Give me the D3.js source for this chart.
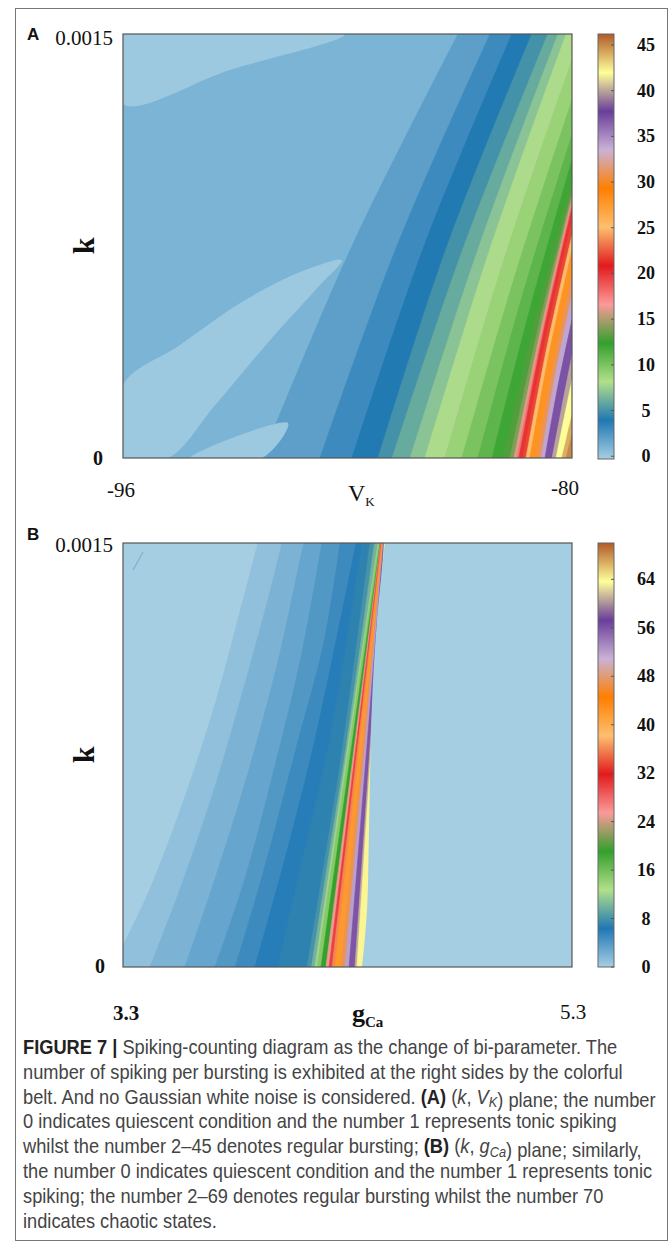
<!DOCTYPE html>
<html><head><meta charset="utf-8">
<script src="https://cdn.jsdelivr.net/npm/d3@7"></script>
<style>body{margin:0;background:#fff}</style>
</head><body><svg id="c" width="670" height="1246"></svg>
<script>
// ---------- DATA ----------
const pairedColors = ["#a6cee3","#1f78b4","#b2df8a","#33a02c","#fb9a99","#e31a1c","#fdbf6f","#ff7f00","#cab2d6","#6a3d9a","#ffff99","#b15928"];

// Panel A : (V_K, k)
const vkDomain = [-96, -80];
const kDomain = [0, 0.0015];
const countRangeA = [-0.3, 46.2];
const colorTicksA = [0,5,10,15,20,25,30,35,40,45];
const backgroundLevelA = 1;
// quiescent islands (level 0) as closed polygons [V_K, k]
const zeroIslandsA = [
  [[-96,0.0015],[-96,0.001252],[-92.19,0.001373],[-88.09,0.0015]],
  [[-96,0.000258],[-93.97,0.0004],[-91.65,0.000559],[-89.69,0.000658],[-88.2,0.0007],[-88.98,0.000612],[-90.76,0.000417],[-92.72,0.000187],[-94.40,0],[-96,0]],
  [[-93.61,0],[-90.12,0.000124],[-91.05,0]]
];
// contour boundaries: level right of the curve, points from bottom to top / right edge
const contoursA = [
  [2,  [[-91.05,0],[-87.84,0.00075],[-84.06,0.0015]]],
  [3,  [[-88.98,0],[-86.24,0.00075],[-82.92,0.0015]]],
  [4,  [[-87.84,0],[-85.27,0.00075],[-82.14,0.0015]]],
  [5,  [[-86.91,0],[-84.45,0.00075],[-81.43,0.0015]]],
  [6,  [[-86.41,0],[-83.85,0.00075],[-80.86,0.0015]]],
  [7,  [[-85.77,0],[-83.31,0.00075],[-80.50,0.0015]]],
  [8,  [[-85.24,0],[-82.89,0.00075],[-80.21,0.0015]]],
  [9,  [[-84.53,0],[-82.42,0.000704],[-80,0.001408]]],
  [10, [[-83.92,0],[-82.07,0.000633],[-80,0.001266]]],
  [11, [[-83.35,0],[-81.78,0.000571],[-80,0.001143]]],
  [12, [[-82.85,0],[-81.50,0.000527],[-80,0.001054]]],
  [13, [[-82.46,0],[-81.30,0.000492],[-80,0.000983]]],
  [14, [[-82.21,0],[-81.18,0.000471],[-80,0.000941]]],
  [16, [[-82.07,0],[-81.10,0.000460],[-80,0.000920]]],
  [18, [[-81.96,0],[-81.05,0.000449],[-80,0.000899]]],
  [20, [[-81.89,0],[-81.02,0.000442],[-80,0.000884]]],
  [22, [[-81.75,0],[-80.94,0.000421],[-80,0.000842]]],
  [25, [[-81.64,0],[-80.89,0.000394],[-80,0.000789]]],
  [28, [[-81.50,0],[-80.82,0.000368],[-80,0.000736]]],
  [31, [[-81.25,0],[-80.68,0.000324],[-80,0.000647]]],
  [34, [[-81.10,0],[-80.61,0.000288],[-80,0.000577]]],
  [37, [[-80.96,0],[-80.52,0.000244],[-80,0.000488]]],
  [40, [[-80.71,0],[-80.36,0.000182],[-80,0.000364]]],
  [42, [[-80.57,0],[-80.29,0.000138],[-80,0.000276]]],
  [44, [[-80.36,0],[-80.18,0.000076],[-80,0.000152]]],
  [45, [[-80.21,0],[-80.11,0.000041],[-80,0.000081]]]
];

// Panel B : (g_Ca, k)
const gcaDomain = [3.3, 5.3];
const countRangeB = [0, 70];
const colorTicksB = [0,8,16,24,32,40,48,56,64];
const backgroundLevelB = 0;
const contoursB = [
  [1,  [[3.30,0.0000763],[3.420,0.000276],[3.576,0.000603],[3.710,0.000930],[3.821,0.001257],[3.901,0.0015]]],
  [2,  [[3.420,0],[3.554,0.000276],[3.710,0.000639],[3.843,0.001002],[3.955,0.001329],[4.008,0.0015]]],
  [3,  [[3.576,0],[3.710,0.000312],[3.866,0.000712],[3.999,0.001111],[4.088,0.001438],[4.106,0.0015]]],
  [4,  [[3.710,0],[3.843,0.000312],[3.977,0.000712],[4.097,0.001111],[4.186,0.0015]]],
  [5,  [[3.800,0],[3.930,0.000349],[4.075,0.000785],[4.195,0.001148],[4.267,0.0015]]],
  [6,  [[3.888,0],[4.022,0.000385],[4.160,0.000821],[4.338,0.0015]]],
  [7,  [[3.990,0],[4.100,0.000385],[4.220,0.000800],[4.365,0.0015]]],
  [8,  [[4.120,0],[4.200,0.000385],[4.280,0.000785],[4.400,0.0015]]],
  [10, [[4.140,0],[4.215,0.000385],[4.295,0.000785],[4.420,0.0015]]],
  [12, [[4.155,0],[4.436,0.0015]]],
  [15, [[4.165,0],[4.440,0.0015]]],
  [19, [[4.182,0],[4.445,0.0015]]],
  [25, [[4.204,0],[4.447,0.0015]]],
  [30, [[4.218,0],[4.449,0.0015]]],
  [36, [[4.231,0],[4.451,0.0015]]],
  [42, [[4.244,0],[4.454,0.0015]]],
  [47, [[4.271,0],[4.456,0.0015]]],
  [52, [[4.289,0],[4.458,0.0015]]],
  [56, [[4.307,0],[4.460,0.0015]]],
  [61, [[4.333,0],[4.463,0.0015]]],
  [64, [[4.342,0],[4.465,0.0015]]]
];
// right quiescent region boundary (level 0 to the right)
const quiescentEdgeB = [[4.365,0],[4.387,0.000203],[4.396,0.000494],[4.409,0.00093],[4.431,0.00122],[4.467,0.0015]];
// small artefact stroke in the upper-left of panel B
const artefactB = [[3.389,0.001468],[3.345,0.001404]];

const captionLines = [
  [["FIGURE 7 | ","b"],["Spiking-counting diagram as the change of bi-parameter. The",""]],
  [["number of spiking per bursting is exhibited at the right sides by the colorful",""]],
  [["belt. And no Gaussian white noise is considered. ",""],["(A)","b"],[" (",""],["k","i"],[", ",""],["V","i"],["K","is"],[") plane; the number",""]],
  [["0 indicates quiescent condition and the number 1 represents tonic spiking",""]],
  [["whilst the number 2\u201345 denotes regular bursting; ",""],["(B)","b"],[" (",""],["k","i"],[", ",""],["g","i"],["Ca","is"],[") plane; similarly,",""]],
  [["the number 0 indicates quiescent condition and the number 1 represents tonic",""]],
  [["spiking; the number 2\u201369 denotes regular bursting whilst the number 70",""]],
  [["indicates chaotic states.",""]]
];

// ---------- DRAW ----------
const svg = d3.select("#c");
svg.append("rect").attr("x",15.5).attr("y",8.5).attr("width",652).attr("height",1232)
  .attr("fill","none").attr("stroke","#777").attr("stroke-width",1);

const defs = svg.append("defs");
const serif = "'Liberation Serif','Times New Roman',serif";
const sans = "'Liberation Sans',Arial,sans-serif";

function makeColor(range){
  const [lo,hi] = range;
  return d3.scaleLinear().domain(pairedColors.map((c,i)=>lo+i*(hi-lo)/11)).range(pairedColors).interpolate(d3.interpolateRgb).clamp(true);
}

function bandPath(pts, x, y, xDom, kDom){
  const line = d3.line().x(d=>x(d[0])).y(d=>y(d[1])).curve(d3.curveCatmullRom.alpha(0.5));
  let p = line(pts);
  const first = pts[0], last = pts[pts.length-1];
  if (last[0] < xDom[1]) p += `L${x(xDom[1])},${y(kDom[1])}`;
  p += `L${x(xDom[1])},${y(kDom[0])}`;
  if (first[1] > kDom[0]) p += `L${x(xDom[0])},${y(kDom[0])}`;
  return p + "Z";
}

function panel(opt){
  const {id, left, top, w, h, xDom, color, bgLevel} = opt;
  const x = d3.scaleLinear().domain(xDom).range([left, left+w]);
  const y = d3.scaleLinear().domain(kDomain).range([top+h, top]);
  defs.append("clipPath").attr("id","clip"+id).append("rect")
    .attr("x",left).attr("y",top).attr("width",w).attr("height",h);
  const g = svg.append("g").attr("clip-path",`url(#clip${id})`);
  g.append("rect").attr("x",left).attr("y",top).attr("width",w).attr("height",h).attr("fill",color(bgLevel));
  opt.contours.forEach(([lev, pts])=>{
    g.append("path").attr("d",bandPath(pts,x,y,xDom,kDomain)).attr("fill",color(lev))
      .attr("stroke",color(lev)).attr("stroke-width",0.6);
  });
  if (opt.islands) opt.islands.forEach(poly=>{
    g.append("path").attr("d",d3.line().x(d=>x(d[0])).y(d=>y(d[1])).curve(d3.curveCatmullRomClosed.alpha(0.5))(poly))
      .attr("fill",color(0));
  });
  if (opt.rightZero){
    g.append("path").attr("d",bandPath(opt.rightZero,x,y,xDom,kDomain)).attr("fill",color(0));
  }
  if (opt.artefact){
    g.append("path").attr("d",d3.line().x(d=>x(d[0])).y(d=>y(d[1]))(opt.artefact))
      .attr("stroke",color(2)).attr("stroke-width",1.2).attr("fill","none");
  }
  svg.append("rect").attr("x",left).attr("y",top).attr("width",w).attr("height",h)
    .attr("fill","none").attr("stroke","#555").attr("stroke-width",1.2);
  return {x,y};
}

function colorbar(opt){
  const {id, left, top, w, h, range, ticks} = opt;
  const grad = defs.append("linearGradient").attr("id","grad"+id)
    .attr("x1",0).attr("y1",1).attr("x2",0).attr("y2",0);
  pairedColors.forEach((c,i)=>grad.append("stop").attr("offset",i/11).attr("stop-color",c));
  svg.append("rect").attr("x",left).attr("y",top).attr("width",w).attr("height",h)
    .attr("fill",`url(#grad${id})`).attr("stroke","#666").attr("stroke-width",1);
  const s = d3.scaleLinear().domain(range).range([top+h, top]);
  ticks.forEach(t=>{
    svg.append("line").attr("x1",left+w-3).attr("x2",left+w).attr("y1",s(t)).attr("y2",s(t)).attr("stroke","#555");
    svg.append("text").attr("x",left+48).attr("y",s(t)+6).attr("text-anchor","middle")
      .attr("font-family",serif).attr("font-size",18).attr("font-weight","bold").attr("fill","#111").text(t);
  });
}

// Panel A
const colorA = makeColor(countRangeA);
const pA = panel({id:"A", left:123, top:34, w:449, h:424, xDom:vkDomain, color:colorA,
  bgLevel:backgroundLevelA, contours:contoursA, islands:zeroIslandsA});
colorbar({id:"A", left:598, top:34, w:16, h:425, range:countRangeA, ticks:colorTicksA});

// Panel B
const colorB = makeColor(countRangeB);
const pB = panel({id:"B", left:123, top:543, w:449, h:424, xDom:gcaDomain, color:colorB,
  bgLevel:backgroundLevelB, contours:contoursB, rightZero:quiescentEdgeB, artefact:artefactB});
colorbar({id:"B", left:598, top:543, w:16, h:424, range:countRangeB, ticks:colorTicksB});

// labels
function txt(x,y,s,o={}){
  return svg.append("text").attr("x",x).attr("y",y).attr("font-family",o.ff||serif)
    .attr("font-size",o.fs||20).attr("font-weight",o.fw||"normal").attr("fill",o.fill||"#111")
    .attr("text-anchor",o.anchor||"start").text(s);
}
// Panel A texts
txt(27,40,"A",{ff:sans,fs:17,fw:"bold"});
txt(pA.x(-96)-10,pA.y(0.0015)+11,"0.0015",{anchor:"end",fs:21});
txt(pA.x(-96)-20,pA.y(0)+7,"0",{anchor:"end",fs:20,fw:"bold"});
txt(pA.x(-96)-2,497,"-96",{anchor:"middle",fs:21});
txt(pA.x(-80)-7,495,"-80",{anchor:"middle",fs:21});
const vk = txt(348,501,"V",{fs:24});
vk.append("tspan").attr("font-size",13).attr("dy",5).text("K");
txt(0,0,"k",{fs:30,fw:"bold",anchor:"middle"}).attr("transform",`translate(94,${(pA.y(0)+pA.y(0.0015))/2}) rotate(-90)`);

// Panel B texts
txt(27,540,"B",{ff:sans,fs:17,fw:"bold"});
txt(pB.x(3.3)-10,pB.y(0.0015)+9,"0.0015",{anchor:"end",fs:21});
txt(pB.x(3.3)-18,pB.y(0)+6,"0",{anchor:"end",fs:20,fw:"bold"});
txt(pB.x(3.3)+3,1020,"3.3",{anchor:"middle",fs:21,fw:"bold"});
txt(pB.x(5.3)+1,1019,"5.3",{anchor:"middle",fs:21});
const gca = txt(352,1022,"g",{fs:26,fw:"bold"});
gca.append("tspan").attr("font-size",15).attr("dy",5).text("Ca");
txt(0,0,"k",{fs:30,fw:"bold",anchor:"middle"}).attr("transform",`translate(94,${(pB.y(0)+pB.y(0.0015))/2}) rotate(-90)`);

// caption
const cap = svg.append("g");
const lineEls = captionLines.map((segs,i)=>{
  const t = cap.append("text").attr("x",0).attr("y",0)
    .attr("transform",`translate(23,${1054+i*24.8}) scale(1,1.1)`)
    .attr("font-family",sans).attr("font-size",16).attr("fill","#444");
  segs.forEach(([s,f])=>{
    const sp = t.append("tspan").text(s);
    if (f==="b") sp.attr("font-weight","bold").attr("fill","#222");
    if (f==="i") sp.attr("font-style","italic");
    if (f==="is") { sp.attr("font-style","italic").attr("font-size","0.7em").attr("dy",3);
      t.append("tspan").attr("dy",-3).text(""); }
  });
  return t;
});
const w2 = lineEls[1].node().getComputedTextLength();
const fs = 16*599/w2;
lineEls.forEach(t=>t.attr("font-size",fs));
</script>
</body></html>
